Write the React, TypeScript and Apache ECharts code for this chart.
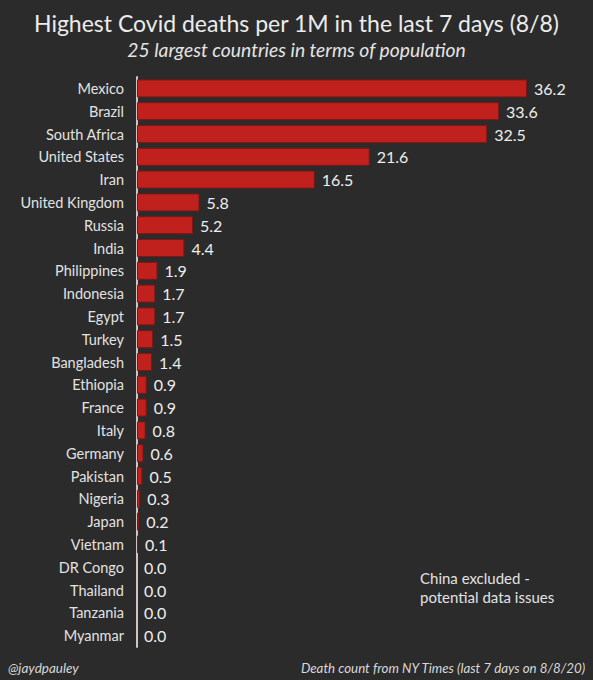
import React, { useEffect, useRef } from "react";
import * as echarts from "echarts";

const countries = [
  "Mexico", "Brazil", "South Africa", "United States", "Iran", "United Kingdom",
  "Russia", "India", "Philippines", "Indonesia", "Egypt", "Turkey", "Bangladesh",
  "Ethiopia", "France", "Italy", "Germany", "Pakistan", "Nigeria", "Japan",
  "Vietnam", "DR Congo", "Thailand", "Tanzania", "Myanmar",
];
const deathsPer1M = [
  36.2, 33.6, 32.5, 21.6, 16.5, 5.8, 5.2, 4.4, 1.9, 1.7, 1.7, 1.5, 1.4,
  0.9, 0.9, 0.8, 0.6, 0.5, 0.3, 0.2, 0.1, 0.0, 0.0, 0.0, 0.0,
];
const titleText = "Highest Covid deaths per 1M in the last 7 days (8/8)";
const subtitleText = "25 largest countries in terms of population";
const noteLines = ["China excluded -", "potential data issues"];
const creditText = "@jaydpauley";
const sourceText = "Death count from NY Times (last 7 days on 8/8/20)";

const FONT = "Lato, 'Open Sans', sans-serif";

export default function App() {
  const ref = useRef<HTMLDivElement>(null);
  useEffect(() => {
    document.body.style.margin = "0";
    document.body.style.background = "#2b2b2b";
    const chart = echarts.init(ref.current!, null, { renderer: "svg" });
    chart.setOption({
      animation: false,
      backgroundColor: "#2b2b2b",
      textStyle: { fontFamily: FONT },
      title: [
        {
          text: titleText,
          left: "center",
          top: 6,
          textStyle: { color: "#ececec", fontSize: 23, fontWeight: "normal", fontFamily: FONT },
        },
        {
          text: subtitleText,
          left: "center",
          top: 35,
          textStyle: { color: "#e4e4e4", fontSize: 19.3, fontStyle: "italic", fontWeight: "normal", fontFamily: FONT },
        },
      ],
      grid: { left: 137, right: 25, top: 77, bottom: 33 },
      xAxis: {
        type: "value",
        min: 0,
        max: 40,
        show: false,
        splitLine: { show: false },
      },
      yAxis: {
        type: "category",
        data: countries,
        inverse: true,
        axisLine: { show: true, lineStyle: { color: "#d0c4c4", width: 2 } },
        axisTick: { show: false },
        axisLabel: { color: "#e2e2e2", fontSize: 14.5, margin: 13, fontFamily: FONT },
      },
      series: [
        {
          type: "bar",
          data: deathsPer1M.map((v) => ({
            value: v,
            itemStyle: v === 0 ? { borderWidth: 0 } : undefined,
          })),
          barWidth: 18,
          itemStyle: { color: "#c0211c", borderColor: "#7e1614", borderWidth: 1 },
          label: {
            show: true,
            position: "right",
            distance: 7,
            color: "#eeeeee",
            fontSize: 16,
            fontFamily: FONT,
            formatter: (p: any) => Number(p.value).toFixed(1),
          },
        },
      ],
      graphic: [
        {
          type: "text",
          left: 420,
          top: 568,
          style: { text: noteLines.join("\n"), fill: "#e2e2e2", font: `15px ${FONT}`, lineHeight: 19 },
        },
        {
          type: "text",
          left: 8,
          top: 661,
          style: { text: creditText, fill: "#d8d8d8", font: `italic 13.5px ${FONT}` },
        },
        {
          type: "text",
          right: 7,
          top: 661,
          style: { text: sourceText, fill: "#d8d8d8", font: `italic 13.3px ${FONT}` },
        },
      ],
    });
    return () => chart.dispose();
  }, []);
  return <div ref={ref} style={{ width: 593, height: 680 }} />;
}
